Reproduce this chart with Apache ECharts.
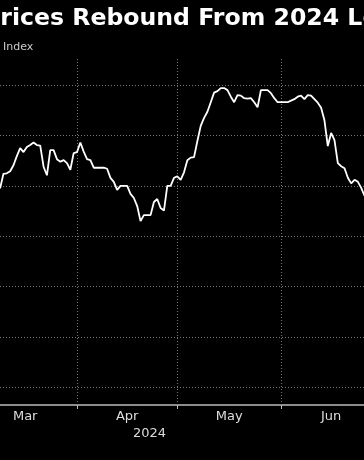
<!DOCTYPE html>
<html>
<head>
<meta charset="utf-8">
<script src="https://cdn.jsdelivr.net/npm/echarts@6/dist/echarts.min.js"></script>
<style>
html,body{margin:0;padding:0;background:#000;}
#chart{width:364px;height:460px;}
</style>
</head>
<body>
<div id="chart"></div>
<script>
var titleText = 'Prices Rebound From 2024 Lows';
var unitText = 'Index';
var yearText = '2024';
var monthLabels = ['Mar', 'Apr', 'May', 'Jun'];
var monthLabelDates = ['2024-03-16 12:00', '2024-04-16', '2024-05-16 12:00', '2024-06-16'];
var monthStarts = ['2024-04-01', '2024-05-01', '2024-06-01'];
var gridValues = [40, 50, 60, 70, 80, 90, 100];
var dates = [
'2024-03-09','2024-03-10','2024-03-11','2024-03-12','2024-03-13','2024-03-14','2024-03-15','2024-03-16','2024-03-17','2024-03-18',
'2024-03-19','2024-03-20','2024-03-21','2024-03-22','2024-03-23','2024-03-24','2024-03-25','2024-03-26','2024-03-27','2024-03-28',
'2024-03-29','2024-03-30','2024-03-31','2024-04-01','2024-04-02','2024-04-03','2024-04-04','2024-04-05','2024-04-06','2024-04-07',
'2024-04-08','2024-04-09','2024-04-10','2024-04-11','2024-04-12','2024-04-13','2024-04-14','2024-04-15','2024-04-16','2024-04-17',
'2024-04-18','2024-04-19','2024-04-20','2024-04-21','2024-04-22','2024-04-23','2024-04-24','2024-04-25','2024-04-26','2024-04-27',
'2024-04-28','2024-04-29','2024-04-30','2024-05-01','2024-05-02','2024-05-03','2024-05-04','2024-05-05','2024-05-06','2024-05-07',
'2024-05-08','2024-05-09','2024-05-10','2024-05-11','2024-05-12','2024-05-13','2024-05-14','2024-05-15','2024-05-16','2024-05-17',
'2024-05-18','2024-05-19','2024-05-20','2024-05-21','2024-05-22','2024-05-23','2024-05-24','2024-05-25','2024-05-26','2024-05-27',
'2024-05-28','2024-05-29','2024-05-30','2024-05-31','2024-06-01','2024-06-02','2024-06-03','2024-06-04','2024-06-05','2024-06-06',
'2024-06-07','2024-06-08','2024-06-09','2024-06-10','2024-06-11','2024-06-12','2024-06-13','2024-06-14','2024-06-15','2024-06-16',
'2024-06-17','2024-06-18','2024-06-19','2024-06-20','2024-06-21','2024-06-22','2024-06-23','2024-06-24','2024-06-25','2024-06-26'
];
var values = [
79.5,82.4,82.5,82.9,84.1,85.9,87.5,86.7,87.7,88.1,
88.6,88.1,88.0,83.8,82.1,87.1,87.1,85.3,84.8,85.1,
84.5,83.2,86.5,86.7,88.6,86.8,85.3,85.1,83.6,83.6,
83.6,83.6,83.4,81.6,80.8,79.2,80.0,80.0,80.0,78.4,
77.6,76.0,73.0,74.2,74.2,74.2,76.8,77.4,75.6,75.1,
80.0,80.0,81.6,81.9,81.2,82.7,85.1,85.6,85.7,88.9,
91.9,93.5,94.7,96.6,98.5,98.8,99.4,99.4,99.0,97.7,
96.6,98.0,97.9,97.4,97.3,97.4,96.6,95.6,99.0,99.0,
99.0,98.4,97.4,96.6,96.6,96.6,96.6,96.9,97.2,97.7,
97.9,97.2,98.0,97.9,97.2,96.5,95.5,93.0,87.9,90.5,
89.1,84.5,83.9,83.5,81.6,80.5,81.2,80.8,79.6,78.0
];

var DAY = 86400000;
function ts(s) {
  var p = s.split(' ');
  var d = p[0].split('-');
  var h = p[1] ? parseInt(p[1], 10) : 0;
  return Date.UTC(+d[0], +d[1] - 1, +d[2], h);
}
var apr1 = ts('2024-04-01');
var xMin = apr1 - 23.03 * DAY;
var xMax = apr1 + 85.83 * DAY;
var labelTs = monthLabelDates.map(ts);

var chart = echarts.init(document.getElementById('chart'), null, {renderer: 'canvas'});
chart.setOption({
  backgroundColor: '#000',
  animation: false,
  graphic: [
    {type: 'text', x: -17, y: 7,
     style: {text: titleText, fill: '#fff', font: 'bold 23.6px "DejaVu Sans"', verticalAlign: 'top'}},
    {type: 'text', x: 3, y: 42,
     style: {text: unitText, fill: '#ccc', font: '11px "DejaVu Sans"', verticalAlign: 'top'}},
    {type: 'text', x: 133, y: 427,
     style: {text: yearText, fill: '#ddd', font: '13px "DejaVu Sans"', verticalAlign: 'top'}}
  ],
  grid: {left: 0, right: 0, top: 58, bottom: 55, containLabel: false},
  xAxis: {
    type: 'value', min: xMin, max: xMax,
    axisLine: {show: true, lineStyle: {color: '#bbb', width: 1.5}},
    axisTick: {show: true, customValues: monthStarts.map(ts), length: 4, lineStyle: {color: '#bbb'}},
    axisLabel: {
      show: true, customValues: labelTs, margin: 5,
      color: '#ddd', fontSize: 13, fontFamily: 'DejaVu Sans',
      formatter: function (v) {
        var i = labelTs.indexOf(v);
        return i >= 0 ? monthLabels[i] : '';
      }
    },
    splitLine: {show: false}
  },
  yAxis: {
    type: 'value', min: 36.53, max: 105.37,
    axisLine: {show: false}, axisTick: {show: false}, axisLabel: {show: false},
    splitLine: {show: false}
  },
  series: [
    {
      type: 'line', z: 1, data: [], silent: true,
      markLine: {
        silent: true, symbol: 'none', animation: false,
        label: {show: false},
        lineStyle: {color: '#777', type: [1, 2], width: 1},
        data: gridValues.map(function (v) { return {yAxis: v}; })
          .concat(monthStarts.map(function (d) { return {xAxis: ts(d)}; }))
      }
    },
    {
      type: 'line', z: 5, showSymbol: false, symbol: 'none',
      lineStyle: {color: '#fff', width: 1.8},
      data: dates.map(function (d, i) { return [ts(d), values[i]]; })
    }
  ]
});
</script>
</body>
</html>
